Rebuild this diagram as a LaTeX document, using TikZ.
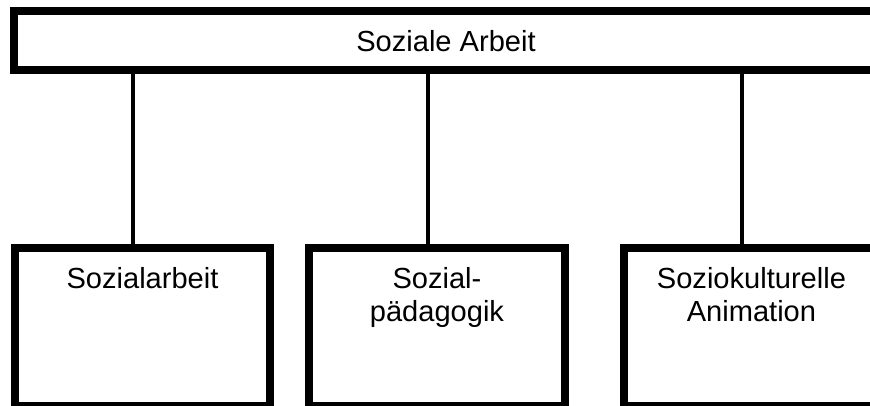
\documentclass[tikz,border=0pt]{standalone}
\usepackage{fontspec}
\setmainfont{Liberation Sans}
\usetikzlibrary{matrix}

\begin{document}
\begin{tikzpicture}[x=0.75pt, y=-0.75pt,
    every node/.style={font=\fontsize{21.8}{25.1}\selectfont},
    bar/.style={draw, line width=6pt, minimum width=648pt, minimum height=43.9pt, inner sep=0pt},
    unit/.style={draw, line width=6pt, minimum width=191.6pt, inner sep=0pt, align=center,
                 text height=30.4pt, text depth=88.1pt},
    unit2/.style={unit, text height=55.5pt, text depth=63pt},
    link/.style={line width=3pt}]
    \useasboundingbox (0,0) rectangle (870,406);
    \node[bar] (field) at (446,40.75) {Soziale Arbeit};
    \matrix(units)[ampersand replacement=\&, inner sep=0pt, column sep=23.25pt,
                   anchor=north west] at (10.5,243.5) {
      \node[unit] (arbeit) {Sozialarbeit}; \&
      \node[unit2] (paed) {Sozial-\\pädagogik}; \&[15pt]
      \node[unit2] (anim) {Soziokulturelle\\Animation}; \\ };
    \path[draw, link] ([xshift=-7.1pt]arbeit.north) -- ([xshift=-7.1pt]arbeit.north |- field.south);
    \path[draw, link] ([xshift=-7.1pt]paed.north) -- ([xshift=-7.1pt]paed.north |- field.south);
    \path[draw, link] ([xshift=-7.1pt]anim.north) -- ([xshift=-7.1pt]anim.north |- field.south);
  \end{tikzpicture}
\end{document}
